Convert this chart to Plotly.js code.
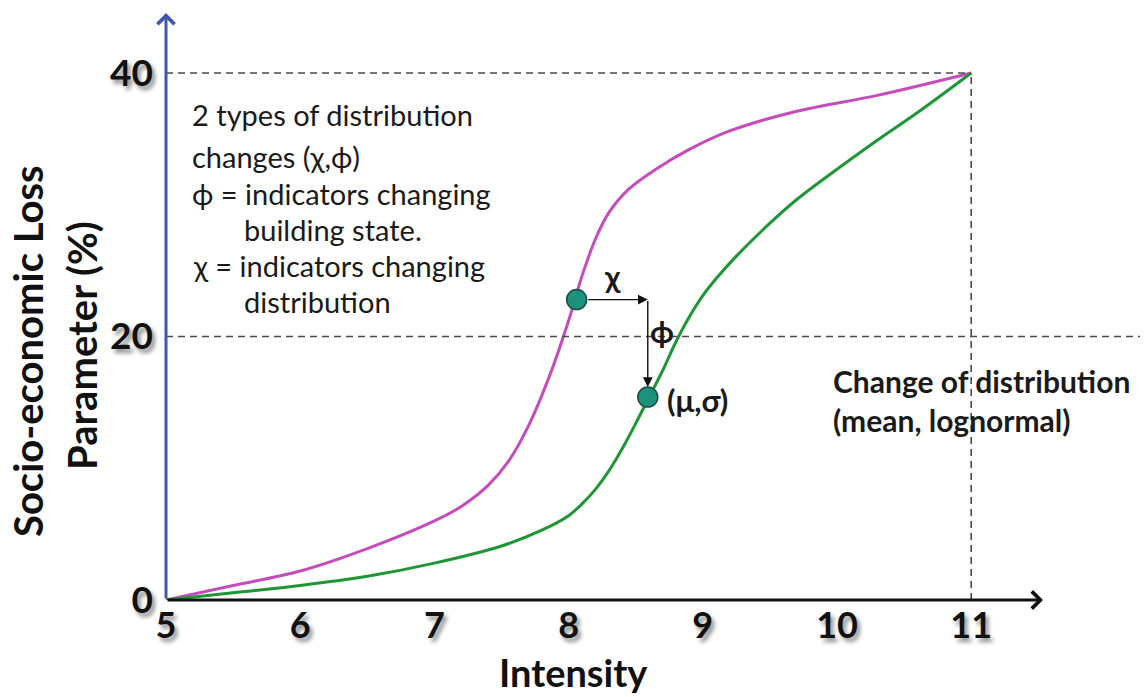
<!DOCTYPE html>
<html>
<head>
<meta charset="utf-8">
<script src="https://cdn.plot.ly/plotly-3.0.1.min.js"></script>
<style>
  html, body { margin: 0; padding: 0; background: #fff; }
  #chart { width: 1145px; height: 697px; }
  .xtick text, .ytick text { text-shadow: 3px 4px 4px rgba(0,0,0,0.45); }
</style>
</head>
<body>
<div id="chart"></div>
<script>
// ---- data ----
const magX = [5, 5.5, 6, 6.5, 7, 7.2, 7.4, 7.55, 7.7, 7.85, 8.0, 8.1, 8.2, 8.3, 8.45, 8.65, 8.9, 9.2, 9.7, 10.3, 11];
const magY = [0, 1.1, 2.2, 3.9, 6.0, 7.1, 8.7, 10.5, 13.2, 16.8, 21.2, 24.6, 27.4, 29.4, 31.2, 32.7, 34.2, 35.6, 37.1, 38.3, 40];
const grnX = [5, 5.5, 6, 6.5, 7, 7.5, 7.8, 8.0, 8.1, 8.2, 8.3, 8.4, 8.5, 8.6, 8.7, 8.8, 8.9, 9.0, 9.1, 9.25, 9.5, 9.7, 10.0, 10.3, 10.6, 11];
const grnY = [0, 0.55, 1.1, 1.8, 2.8, 4.1, 5.3, 6.4, 7.3, 8.4, 9.8, 11.5, 13.4, 15.4, 17.4, 19.6, 21.5, 23.1, 24.4, 26.1, 28.6, 30.4, 32.7, 34.9, 37.0, 40];
const dotX = [8.06, 8.59];
const dotY = [22.8, 15.4];
const xTicks = [5, 6, 7, 8, 9, 10, 11];
const yTicks = [0, 20, 40];
const refLevels = [20, 40];
const xMin = 5, xMax = 11, yMax = 40;
const infoLines = [
  "2 types of distribution",
  "changes (\u03c7,\u03d5)",
  "\u03d5 = indicators changing",
  "building state.",
  "\u03c7 = indicators changing",
  "distribution"
];
const changeLines = ["Change of distribution", "(mean, lognormal)"];
const xTitle = "Intensity";
const yTitleLines = ["Socio-economic Loss", "Parameter (%)"];

// ---- layout geometry (pixels -> data / paper) ----
const W = 1145, H = 697;
const L = 166, R = 0, T = 10, B = 97;
const xRange = [5, 5 + (W - L - R) / 134.2];
const yRange = [0, (H - T - B) / 13.175];
const X = px => xRange[0] + (px - L) / (W - L - R) * (xRange[1] - xRange[0]);
const Y = py => yRange[0] + (H - B - py) / (H - T - B) * (yRange[1] - yRange[0]);
const PX = px => (px - L) / (W - L - R);
const PY = py => (H - B - py) / (H - T - B);

const FONT = "Lato, 'Open Sans', sans-serif";
const ink = "#1a1a1a";

const traces = [
  { x: magX, y: magY, mode: "lines", line: { color: "#c64cbb", width: 3, shape: "spline", smoothing: 1 }, hoverinfo: "skip" },
  { x: grnX, y: grnY, mode: "lines", line: { color: "#1f9636", width: 3, shape: "spline", smoothing: 1 }, hoverinfo: "skip" },
  { x: dotX, y: dotY, mode: "markers", marker: { size: 20, color: "#1b927b", line: { color: "#1d4a42", width: 1.5 } }, hoverinfo: "skip" }
];

const dashStyle = { color: "#4a4a4a", width: 1.6, dash: "7px,5px" };
const shapes = [
  { type: "line", xref: "x", yref: "y", x0: xMin, x1: xMax, y0: refLevels[1], y1: refLevels[1], line: dashStyle },
  { type: "line", xref: "paper", yref: "y", x0: 0, x1: 0.995, y0: refLevels[0], y1: refLevels[0], line: dashStyle },
  { type: "line", xref: "x", yref: "y", x0: xMax, x1: xMax, y0: 0, y1: yMax, line: dashStyle }
];

const annotations = [];
// axes with arrows
annotations.push({ x: X(1043), y: 0, ax: xMin, ay: 0, xref: "x", yref: "y", axref: "x", ayref: "y",
  text: "", showarrow: true, arrowhead: 4, arrowsize: 1.1, arrowwidth: 3, arrowcolor: "#111", standoff: 0, startstandoff: 0 });
annotations.push({ x: xMin, y: Y(13), ax: xMin, ay: 0, xref: "x", yref: "y", axref: "x", ayref: "y",
  text: "", showarrow: true, arrowhead: 4, arrowsize: 1.1, arrowwidth: 3, arrowcolor: "#4055b2", standoff: 0, startstandoff: 0 });
// chi / phi arrows
annotations.push({ x: dotX[1], y: dotY[0], ax: dotX[0], ay: dotY[0], xref: "x", yref: "y", axref: "x", ayref: "y",
  text: "", showarrow: true, arrowhead: 2, arrowsize: 1.4, arrowwidth: 1.4, arrowcolor: "#111", standoff: 0, startstandoff: 10 });
annotations.push({ x: dotX[1], y: dotY[1], ax: dotX[1], ay: dotY[0], xref: "x", yref: "y", axref: "x", ayref: "y",
  text: "", showarrow: true, arrowhead: 2, arrowsize: 1.4, arrowwidth: 1.4, arrowcolor: "#111", standoff: 10, startstandoff: 0 });

function label(text, px, py, opts) {
  return Object.assign({ x: PX(px), y: PY(py), xref: "paper", yref: "paper", text: text, showarrow: false,
    xanchor: "left", yanchor: "middle", font: { family: FONT, size: 29, color: ink } }, opts || {});
}
// info block
const infoLeft = [190, 190, 190, 242, 191, 242];
const infoY = [115, 157, 194, 229, 265, 301];
infoLines.forEach((t, i) => annotations.push(label(t, infoLeft[i], infoY[i])));
// change of distribution
const bold30 = { family: FONT, size: 30, color: ink, weight: "bold" };
annotations.push(label(changeLines[0], 831, 381, { font: bold30 }));
annotations.push(label(changeLines[1], 831, 420, { font: bold30 }));
// symbols
annotations.push(label("\u03c7", 612, 276, { xanchor: "center", font: { family: FONT, size: 31, color: ink, weight: "bold" } }));
annotations.push(label("\u03d5", 662, 331, { xanchor: "center", font: { family: FONT, size: 31, color: ink, weight: "bold" } }));
annotations.push(label("(\u03bc,\u03c3)", 665, 400, { font: { family: FONT, size: 31, color: ink, weight: "bold" } }));
// axis titles
annotations.push(label(xTitle, 573, 672, { xanchor: "center", font: { family: FONT, size: 38, color: "#111", weight: "bold" } }));
annotations.push(label(yTitleLines[0], 28, 351, { xanchor: "center", textangle: -90, font: { family: FONT, size: 40, color: "#111", weight: "bold" } }));
annotations.push(label(yTitleLines[1], 82, 346, { xanchor: "center", textangle: -90, font: { family: FONT, size: 40, color: "#111", weight: "bold" } }));

const layout = {
  width: W, height: H,
  margin: { l: L, r: R, t: T, b: B, pad: 0 },
  paper_bgcolor: "#fff", plot_bgcolor: "#fff",
  showlegend: false,
  xaxis: { range: xRange, tickvals: xTicks, ticktext: xTicks.map(String), ticks: "", showgrid: false, zeroline: false, showline: false,
    ticklabelstandoff: 1, tickfont: { family: FONT, size: 36, color: "#111", weight: "bold" }, fixedrange: true },
  yaxis: { range: yRange, tickvals: yTicks, ticktext: yTicks.map(String), ticks: "", showgrid: false, zeroline: false, showline: false,
    ticklabelstandoff: 12, tickfont: { family: FONT, size: 37, color: "#111", weight: "bold" }, fixedrange: true },
  shapes: shapes,
  annotations: annotations
};

Plotly.newPlot("chart", traces, layout, { staticPlot: true, displayModeBar: false });
</script>
</body>
</html>
